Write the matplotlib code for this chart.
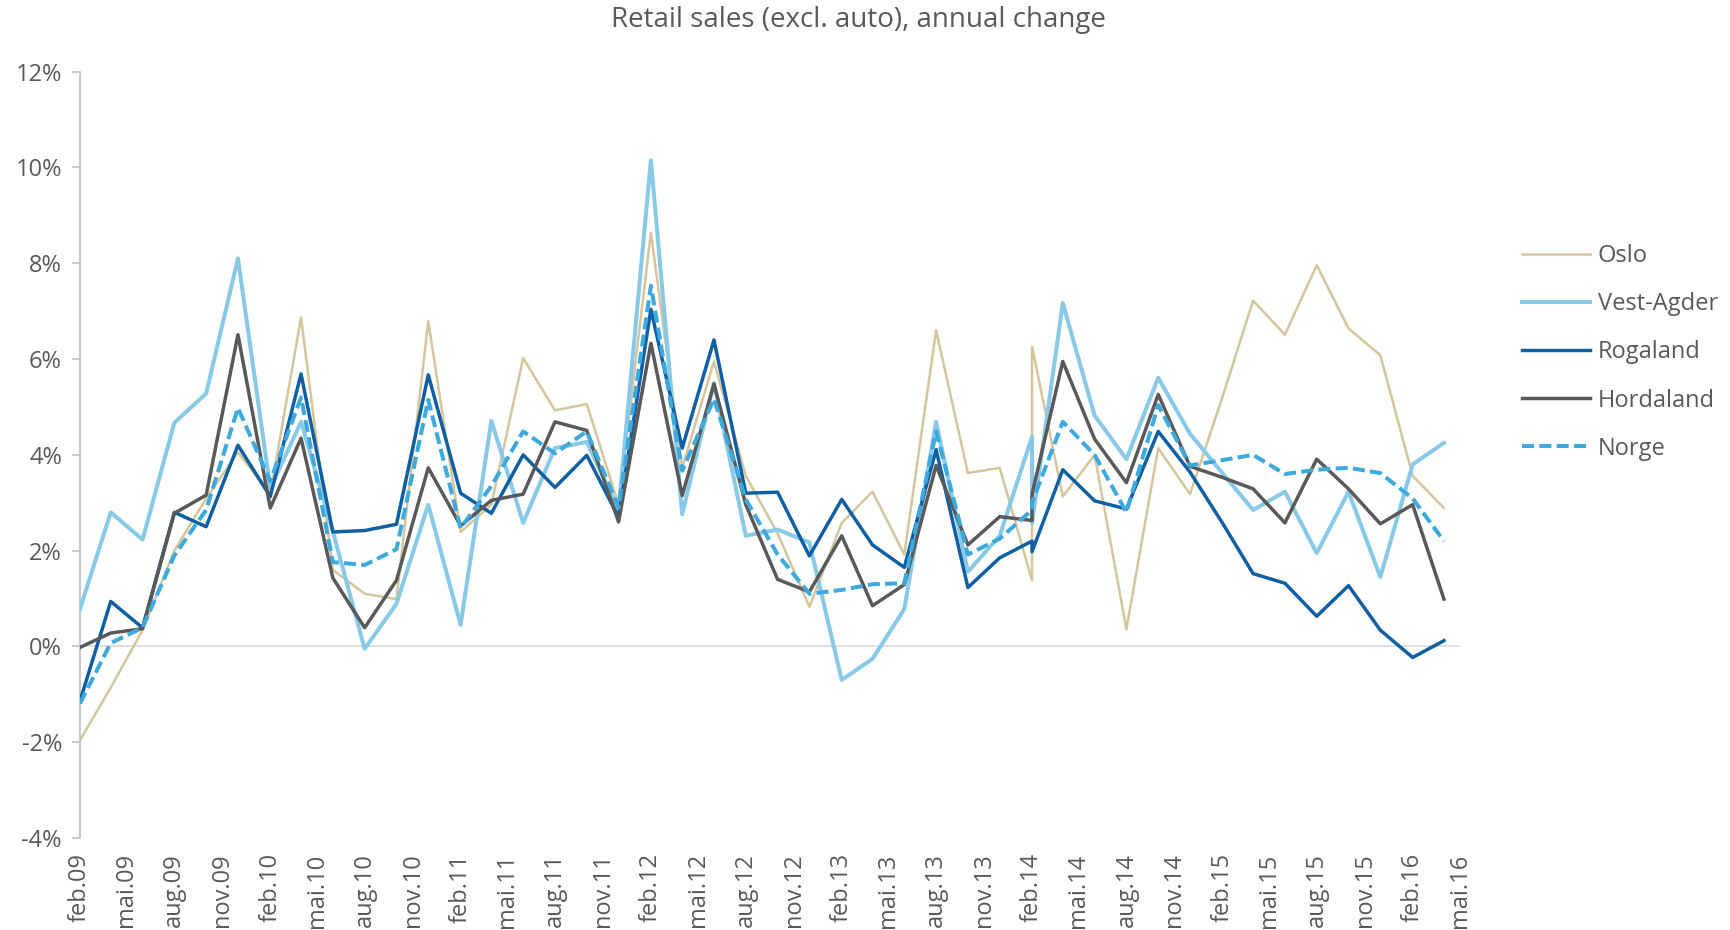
import matplotlib
matplotlib.use("Agg")
import matplotlib.pyplot as plt
import matplotlib.dates as mdates
from matplotlib.ticker import PercentFormatter, MultipleLocator
import pandas as pd

plt.rcParams['font.family'] = ['Open Sans', 'DejaVu Sans']
plt.rcParams['axes.unicode_minus'] = False

# bi-monthly observations, feb.09 - apr.16 (feb.14 is listed twice in the sheet)
dates = list(pd.date_range('2009-02-01', '2016-04-01', freq='2MS'))
i_dup = dates.index(pd.Timestamp('2014-02-01'))
dates.insert(i_dup, dates[i_dup])

oslo = [-1.96, -0.86, 0.34, 2.0, 3.09, 4.05, 3.18, 6.87, 1.6, 1.1,
        0.99, 6.79, 2.39, 2.96, 6.02, 4.93, 5.06, 2.96, 8.64, 3.73,
        5.95, 3.56, 2.36, 0.83, 2.58, 3.23, 1.92, 6.60, 3.62, 3.73,
        1.38, 6.26,
        3.13, 4.0, 0.36, 4.14, 3.18, 5.2, 7.22, 6.51, 7.96, 6.64, 6.08, 3.56, 2.89]
vest_agder = [0.78, 2.80, 2.23, 4.67, 5.28, 8.10, 3.3, 4.69, 2.4, -0.05,
              0.89, 2.96, 0.45, 4.71, 2.58, 4.14, 4.27, 2.85, 10.15, 2.76,
              5.5, 2.31, 2.44, 2.17, -0.70, -0.26, 0.78, 4.69, 1.56, 2.31,
              4.38, 2.58,
              7.17, 4.82, 3.91, 5.61, 4.44, 3.62, 2.85, 3.23, 1.95, 3.23, 1.45, 3.80, 4.25]
rogaland = [-1.14, 0.94, 0.39, 2.80, 2.50, 4.20, 3.13, 5.69, 2.39, 2.42,
            2.55, 5.67, 3.20, 2.78, 4.0, 3.32, 3.99, 2.7, 7.04, 4.14,
            6.40, 3.20, 3.22, 1.89, 3.07, 2.12, 1.65, 4.11, 1.23, 1.85,
            2.20, 1.98,
            3.69, 3.04, 2.87, 4.49, 3.64, 2.58, 1.52, 1.32, 0.63, 1.27, 0.34, -0.23, 0.12]
hordaland = [-0.02, 0.28, 0.37, 2.78, 3.16, 6.51, 2.89, 4.35, 1.43, 0.39,
             1.38, 3.73, 2.52, 3.05, 3.18, 4.69, 4.51, 2.6, 6.33, 3.15,
             5.48, 2.96, 1.40, 1.14, 2.31, 0.85, 1.29, 3.78, 2.12, 2.71,
             2.63, 3.18,
             5.95, 4.33, 3.42, 5.26, 3.76, 3.53, 3.29, 2.58, 3.91, 3.29, 2.56, 2.96, 0.99]
norge = [-1.19, 0.07, 0.39, 1.9, 2.85, 4.98, 3.45, 5.20, 1.76, 1.70,
         2.03, 5.15, 2.47, 3.35, 4.49, 4.03, 4.49, 2.9, 7.53, 3.67,
         5.17, 3.07, 1.92, 1.10, 1.18, 1.30, 1.32, 4.49, 1.92, 2.25,
         2.85, 3.0,
         4.69, 4.0, 2.80, 5.04, 3.78, 3.89, 4.0, 3.60, 3.69, 3.73, 3.62, 3.09, 2.20]

tick_dates = pd.date_range('2009-02-01', '2016-05-01', freq='3MS')
month_names = {2: 'feb', 5: 'mai', 8: 'aug', 11: 'nov'}
tick_labels = [f"{month_names[d.month]}.{d.year % 100:02d}" for d in tick_dates]

grey = '#595959'

fig = plt.figure(figsize=(17.31, 9.30), dpi=100)
ax = fig.add_axes([0.0462, 0.0989, 0.797, 0.824])

ax.axhline(0, color='#d9d9d9', lw=1.2, zorder=1)

ax.plot(dates, oslo, color='#d4c59c', lw=1.8, label='Oslo', zorder=2)
ax.plot(dates, vest_agder, color='#88c9e8', lw=2.9, label='Vest-Agder', zorder=3)
ax.plot(dates, rogaland, color='#115fa3', lw=2.5, label='Rogaland', zorder=4)
ax.plot(dates, hordaland, color='#595959', lw=2.5, label='Hordaland', zorder=5)
ax.plot(dates, norge, color='#3ea9dc', lw=2.9, ls=(0, (3.0, 1.3)), label='Norge', zorder=6)

ax.set_ylim(-4, 12)
ax.yaxis.set_major_locator(MultipleLocator(2))
ax.yaxis.set_major_formatter(PercentFormatter(decimals=0))
ax.set_xlim(tick_dates[0], tick_dates[-1])
ax.set_xticks(tick_dates)
ax.set_xticklabels(tick_labels, rotation=90)

for s in ['top', 'right', 'bottom']:
    ax.spines[s].set_visible(False)
ax.spines['left'].set_color('#bfbfbf')
ax.spines['left'].set_linewidth(1.2)
ax.tick_params(axis='y', colors='#bfbfbf', labelcolor=grey, labelsize=17,
               length=6, width=1.2, pad=7)
ax.tick_params(axis='x', length=0, labelcolor=grey, labelsize=17, pad=11)

fig.text(0.496, 0.979, 'Retail sales (excl. auto), annual change',
         ha='center', va='center', fontsize=20, color=grey)

fig.legend(loc='center left', bbox_to_anchor=(0.867, 0.621), frameon=False,
           fontsize=17, labelcolor=grey, handlelength=2.9, handletextpad=0.3,
           labelspacing=1.02)

fig.savefig('out.png', dpi=100)
